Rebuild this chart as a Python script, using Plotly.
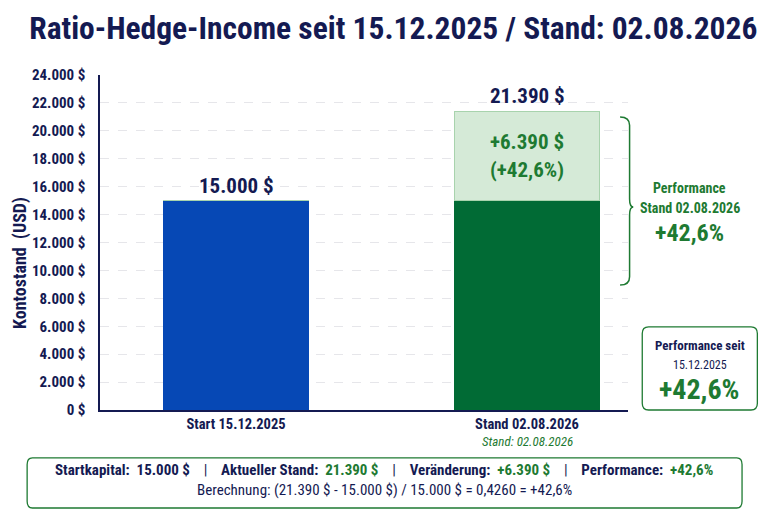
import plotly.graph_objects as go

# data
categories = ["Start 15.12.2025", "Stand 02.08.2026"]
base_values = [15000, 15000]
gain_values = [0, 6390]
start_capital = 15000
current_value = 21390
change = 6390
performance = "+42,6%"
y_tickvals = list(range(0, 24001, 2000))
y_ticktext = ["0 $" if v == 0 else f"{v:,}".replace(",", ".") + " $" for v in y_tickvals]

NAVY = "#141a52"
GREEN = "#1e7a32"
DARK_GREEN = "#016b35"
LIGHT_GREEN = "#d5ead7"
BLUE = "#0648b5"
FONT = "Roboto Condensed, Liberation Sans Narrow, DejaVu Sans Condensed, Roboto, sans-serif"


def fmt(v):
    return f"{v:,}".replace(",", ".") + " $"


def rounded_rect(x0, y0, x1, y1, rx, ry):
    return (f"M {x0+rx},{y0} L {x1-rx},{y0} Q {x1},{y0} {x1},{y0+ry} "
            f"L {x1},{y1-ry} Q {x1},{y1} {x1-rx},{y1} L {x0+rx},{y1} "
            f"Q {x0},{y1} {x0},{y1-ry} L {x0},{y0+ry} Q {x0},{y0} {x0+rx},{y0} Z")


def note(x, y, text, size, color, **kw):
    fig.add_annotation(xref="paper", yref="paper", x=x, y=y, text=text, showarrow=False,
                       xanchor="center", yanchor="middle",
                       font=dict(color=color, size=size, family=FONT), **kw)


fig = go.Figure()
fig.add_trace(go.Bar(
    x=categories, y=base_values, width=0.5,
    marker=dict(color=[BLUE, DARK_GREEN], line=dict(width=0)),
    hoverinfo="skip", showlegend=False,
))
fig.add_trace(go.Bar(
    x=categories, y=gain_values, width=0.5,
    marker=dict(color=LIGHT_GREEN, line=dict(color="#a8d3ad", width=1)),
    text=["", f"+{fmt(change)}<br>({performance})"],
    textposition="inside", insidetextanchor="middle",
    textfont=dict(color=GREEN, size=21, family=FONT, weight="bold"),
    hoverinfo="skip", showlegend=False,
))

# totals above bars
totals = [base_values[i] + gain_values[i] for i in range(len(categories))]
for cat, tot in zip(categories, totals):
    fig.add_annotation(x=cat, y=tot, yshift=15, yanchor="middle", text=f"<b>{fmt(tot)}</b>",
                       showarrow=False, font=dict(color=NAVY, size=21, family=FONT))

fig.add_annotation(x=categories[1], y=0, yref="y", yshift=-31, yanchor="middle",
                   text="<i>Stand: 02.08.2026</i>",
                   showarrow=False, font=dict(color=GREEN, size=13, family=FONT))

# y-axis title
note(-0.1515, 0.439, "<b>Kontostand  (USD)</b>", 18, NAVY, textangle=-90)

# brace
bx = 1.0
fig.add_shape(type="path", xref="paper", yref="paper", line=dict(color=GREEN, width=1.5),
              path=(f"M {bx-0.015},{0.875} Q {bx+0.003},{0.875} {bx+0.003},{0.85} "
                    f"L {bx+0.003},{0.63} Q {bx+0.003},{0.606} {bx+0.01},{0.606} "
                    f"Q {bx+0.003},{0.606} {bx+0.003},{0.582} "
                    f"L {bx+0.003},{0.398} Q {bx+0.003},{0.373} {bx-0.015},{0.373}"))
note(1.117, 0.663, "<b>Performance</b>", 14, GREEN)
note(1.117, 0.603, "<b>Stand 02.08.2026</b>", 14, GREEN)
note(1.117, 0.528, f"<b>{performance}</b>", 24, GREEN)

# right box
fig.add_shape(type="path", xref="paper", yref="paper", line=dict(color=GREEN, width=1.3),
              fillcolor="white",
              path=rounded_rect(1.027, 0.0, 1.245, 0.248, 0.012, 0.02))
note(1.136, 0.194, "<b>Performance seit</b>", 13, NAVY)
note(1.136, 0.134, "15.12.2025", 12, NAVY)
note(1.136, 0.06, f"<b>{performance}</b>", 28, GREEN)

# bottom summary box
fig.add_shape(type="path", xref="paper", yref="paper", line=dict(color=GREEN, width=1.3),
              fillcolor="white",
              path=rounded_rect(-0.138, -0.2925, 1.216, -0.143, 0.01, 0.02))
sep = "    |    "
line1 = (f"<b>Startkapital:  {fmt(start_capital)}</b>{sep}"
         f"<b>Aktueller Stand:  <span style='color:{GREEN}'>{fmt(current_value)}</span></b>{sep}"
         f"<b>Veränderung:  <span style='color:{GREEN}'>+{fmt(change)}</span></b>{sep}"
         f"<b>Performance:  <span style='color:{GREEN}'>{performance}</span></b>")
note(0.538, -0.179, line1, 15, NAVY)
note(0.538, -0.239,
     f"Berechnung: ({fmt(current_value)} - {fmt(start_capital)}) / {fmt(start_capital)} = 0,4260 = {performance}",
     15, NAVY)

# page is rendered with an 8px offset, so size and margins compensate
fig.update_layout(
    barmode="stack",
    width=760, height=504,
    margin=dict(l=92, r=140, t=67, b=102),
    paper_bgcolor="white", plot_bgcolor="white",
    font=dict(family=FONT, color=NAVY),
    title=dict(text="<b>Ratio-Hedge-Income seit 15.12.2025 / Stand: 02.08.2026</b>",
               x=0.507, xanchor="center", y=0.96, yanchor="middle",
               font=dict(size=31.5, color=NAVY, family=FONT)),
    xaxis=dict(range=[-0.4674, 1.347], showline=True, linecolor=NAVY, linewidth=1.5,
               ticks="", tickfont=dict(size=14.5, color=NAVY, weight="bold"), showgrid=False),
    yaxis=dict(range=[0, 24000], tickvals=y_tickvals, ticktext=y_ticktext,
               showline=True, linecolor=NAVY, linewidth=1.5,
               showgrid=True, gridcolor="#e6e6ea", griddash="dash", gridwidth=1,
               tickfont=dict(size=15, color=NAVY, weight="bold"), zeroline=False,
               ticklabelstandoff=10),
)

fig.write_html("out.html")
